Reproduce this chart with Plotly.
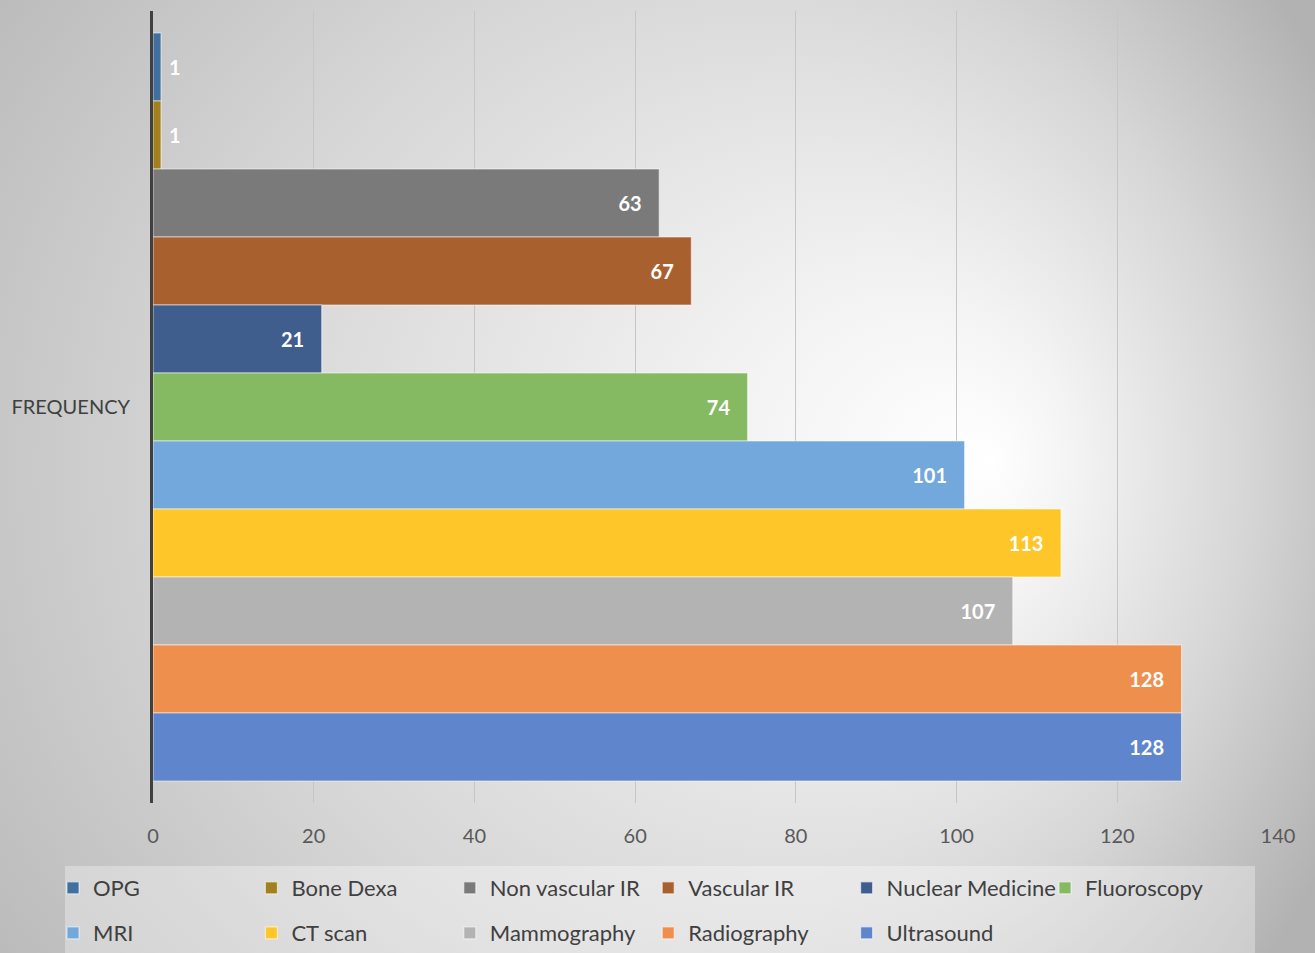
import base64
import plotly.graph_objects as go

category = ["FREQUENCY"]
series_names = ["OPG", "Bone Dexa", "Non vascular IR", "Vascular IR", "Nuclear Medicine",
                "Fluoroscopy", "MRI", "CT scan", "Mammography", "Radiography", "Ultrasound"]
series_values = [1, 1, 63, 67, 21, 74, 101, 113, 107, 128, 128]
series_colors = ["#41709e", "#a2801f", "#7a7a7a", "#a9602f", "#3f5e8e", "#86ba62",
                 "#72a8dc", "#ffc629", "#b3b3b3", "#ef8f4e", "#5f86cc"]
x_ticks = [0, 20, 40, 60, 80, 100, 120, 140]

W, H = 1315, 953
L, R, T, B = 153, 37, 11, 150
PW, PH = W - L - R, H - T - B

def px_x(px):
    return (px - L) / PW

def px_y(py):
    return 1 - (py - T) / PH

FONT = "Lato"
NB = "\u00a0"

fig = go.Figure()
for i, (name, val, col) in enumerate(zip(series_names, series_values, series_colors)):
    outside = val < 5
    fig.add_trace(go.Bar(
        y=category, x=[val], orientation="h", name=name,
        marker=dict(color=col, line=dict(color="rgba(255,255,255,0.55)", width=1.2)),
        text=[(NB + str(val)) if outside else (str(val) + NB * 3)],
        textposition="outside" if outside else "inside",
        insidetextanchor="end",
        textfont=dict(family=FONT, size=20, color="white", weight="bold"),
        outsidetextfont=dict(family=FONT, size=20, color="white", weight="bold"),
        cliponaxis=False,
        legend="legend" if i < 6 else "legend2",
        hoverinfo="x+name",
    ))

svg = (
    f"<svg xmlns='http://www.w3.org/2000/svg' width='{W}' height='{H}'>"
    "<defs><radialGradient id='g' gradientUnits='userSpaceOnUse' cx='560' cy='470' r='860' fx='990' fy='460'>"
    "<stop offset='0' stop-color='#ffffff'/><stop offset='0.2' stop-color='#f3f3f3'/>"
    "<stop offset='0.6' stop-color='#d6d6d6'/><stop offset='1' stop-color='#b2b2b2'/>"
    "</radialGradient></defs>"
    f"<rect width='{W}' height='{H}' fill='url(#g)'/></svg>"
)
src = "data:image/svg+xml;base64," + base64.b64encode(svg.encode()).decode()

legend_common = dict(
    orientation="h", xanchor="left", yanchor="middle",
    bgcolor="rgba(0,0,0,0)", borderwidth=0,
    font=dict(family=FONT, size=22, color="#404040"),
    entrywidth=153.4, entrywidthmode="pixels",
    itemclick=False, itemdoubleclick=False,
)

fig.update_layout(
    width=W, height=H, autosize=False,
    margin=dict(l=L, r=R, t=T, b=B, pad=0, autoexpand=False),
    paper_bgcolor="#d2d2d2",
    plot_bgcolor="rgba(0,0,0,0)",
    barmode="group", bargap=0.0556, bargroupgap=0,
    font=dict(family=FONT, color="#404040"),
    images=[dict(source=src, xref="paper", yref="paper",
                 x=px_x(0), y=px_y(0), sizex=W / PW, sizey=H / PH,
                 xanchor="left", yanchor="top", sizing="stretch", layer="below")],
    shapes=[dict(type="rect", xref="paper", yref="paper",
                 x0=px_x(65), x1=px_x(1255), y0=px_y(960), y1=px_y(866),
                 fillcolor="rgba(255,255,255,0.32)", line=dict(width=0), layer="below")],
    xaxis=dict(range=[0, 140], tickvals=x_ticks, showgrid=True, gridcolor="#c6c6c6", gridwidth=1,
               zeroline=False, showline=False, ticks="", ticklabelstandoff=19, automargin=False,
               tickfont=dict(family=FONT, size=20, color="#595959"), fixedrange=True),
    yaxis=dict(type="category", autorange="reversed", showline=True, linecolor="#404040",
               automargin=False,
               linewidth=3, showgrid=False, ticks="", ticklabelstandoff=16,
               tickfont=dict(family=FONT, size=20, color="#404040"), fixedrange=True),
    legend=dict(x=px_x(53), y=px_y(888), **legend_common),
    legend2=dict(x=px_x(53), y=px_y(933), **legend_common),
    showlegend=True,
)

fig.write_html("out.html", config={"displayModeBar": False},
               post_script="document.body.style.margin='0';document.body.style.overflow='hidden';")
